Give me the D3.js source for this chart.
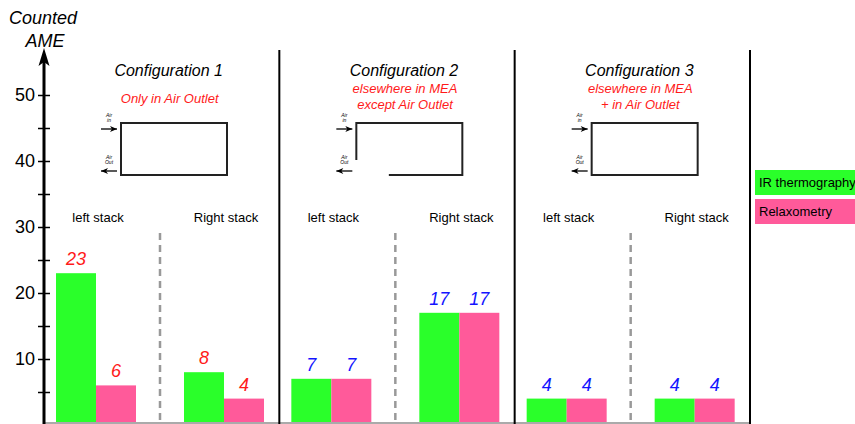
<!DOCTYPE html>
<html>
<head>
<meta charset="utf-8">
<script src="https://cdn.jsdelivr.net/npm/d3@7"></script>
<style>
  body { margin: 0; background: #fff; }
  svg { display: block; font-family: "Liberation Sans", Arial, sans-serif; }
</style>
</head>
<body>
<div id="chart"></div>
<script>
// chart data
const configs = ["Configuration 1", "Configuration 2", "Configuration 3"];
const subtitles = [["Only in Air Outlet"], ["elsewhere in MEA", "except Air Outlet"], ["elsewhere in MEA", "+ in Air Outlet"]];
const stacks = ["left stack", "Right stack"];
const series = ["IR thermography", "Relaxometry"];
const irValues = [[23, 8], [7, 17], [4, 4]];      // per config: left, right
const relaxValues = [[6, 4], [7, 17], [4, 4]];
const valueColors = ["#ff1a1a", "#1414ff", "#1414ff"];
const yTicks = [5, 10, 15, 20, 25, 30, 35, 40, 45, 50];

const width = 855, height = 424;
const colors = { "IR thermography": "#2aff2a", "Relaxometry": "#ff5a9a" };

const svg = d3.select("#chart").append("svg")
    .attr("width", width)
    .attr("height", height);

const y = d3.scaleLinear().domain([0, 50]).range([425, 95]);
const x0 = d3.scaleBand().domain(configs).range([44, 750]);
const x1 = d3.scaleBand().domain(stacks).range([12, 220]).paddingInner(0.375);
const x2 = d3.scaleBand().domain(series).range([0, x1.bandwidth()]);

// baseline
svg.append("line")
    .attr("x1", 44).attr("x2", 750)
    .attr("y1", 423).attr("y2", 423)
    .attr("stroke", "#aaa").attr("stroke-width", 2);

// panels
const panel = svg.selectAll("g.panel")
  .data(configs)
  .join("g")
    .attr("class", "panel")
    .attr("transform", d => `translate(${x0(d)},0)`);

// separators
panel.append("line")
    .attr("x1", x0.bandwidth()).attr("x2", x0.bandwidth())
    .attr("y1", 50).attr("y2", 424)
    .attr("stroke", "#000").attr("stroke-width", 2);

// dashed divider between the stacks
const mid = (x1(stacks[0]) + x1.bandwidth() + x1(stacks[1])) / 2;
panel.append("line")
    .attr("x1", mid).attr("x2", mid)
    .attr("y1", 233).attr("y2", 424)
    .attr("stroke", "#999").attr("stroke-width", 2.5)
    .attr("stroke-dasharray", "7,5");

// titles
panel.append("text")
    .attr("x", x0.bandwidth() / 2 + 7)
    .attr("y", 76)
    .attr("text-anchor", "middle")
    .attr("font-size", 16)
    .attr("font-style", "italic")
    .text(d => d);

panel.each(function(d, i) {
  const g = d3.select(this);
  const lines = subtitles[i];
  g.selectAll("text.sub")
    .data(lines)
    .join("text")
      .attr("class", "sub")
      .attr("x", x0.bandwidth() / 2 + 8)
      .attr("y", (t, j) => lines.length === 1 ? 103 : 93 + j * 16)
      .attr("text-anchor", "middle")
      .attr("font-size", 13)
      .attr("font-style", "italic")
      .attr("fill", "#ff1a1a")
      .text(t => t);
});

// cell diagram
const rx = 77, ry = 123, rw = 106, rh = 52;
panel.append("rect")
    .attr("x", rx).attr("y", ry)
    .attr("width", rw).attr("height", rh)
    .attr("fill", "#fff").attr("stroke", "#222").attr("stroke-width", 2);

// config 2: open corner at the air outlet
panel.filter((d, i) => i === 1).append("rect")
    .attr("x", rx - 1.5).attr("y", ry + 37)
    .attr("width", 34).attr("height", rh - 36)
    .attr("fill", "#fff");

const arrow = (g, yy, dir) => {
  const xa = rx - 20, xb = rx - 4;
  g.append("line")
      .attr("x1", xa).attr("x2", xb).attr("y1", yy).attr("y2", yy)
      .attr("stroke", "#000").attr("stroke-width", 1.3);
  const tip = dir > 0 ? xb : xa;
  g.append("path")
      .attr("d", `M${tip},${yy}L${tip - dir * 7},${yy - 3}L${tip - dir * 5},${yy}L${tip - dir * 7},${yy + 3}Z`)
      .attr("fill", "#000");
};
panel.each(function() {
  const g = d3.select(this);
  arrow(g, 129, 1);
  arrow(g, 171, -1);
  [["Air", 117], ["in", 122], ["Air", 159], ["Out", 164]].forEach(([t, yy]) => {
    g.append("text")
        .attr("x", rx - 12).attr("y", yy)
        .attr("text-anchor", "middle")
        .attr("font-size", 5)
        .attr("font-style", "italic")
        .text(t);
  });
});

// stack labels
panel.selectAll("text.stack")
  .data(stacks)
  .join("text")
    .attr("class", "stack")
    .attr("x", d => x1(d) + x1.bandwidth() / 2 + 2)
    .attr("y", 222)
    .attr("text-anchor", "middle")
    .attr("font-size", 13)
    .text(d => d);

// bars
panel.each(function(c, i) {
  const g = d3.select(this);
  const rows = [];
  stacks.forEach((s, j) => {
    rows.push({ stack: s, key: series[0], value: irValues[i][j] });
    rows.push({ stack: s, key: series[1], value: relaxValues[i][j] });
  });
  g.selectAll("rect.bar")
    .data(rows)
    .join("rect")
      .attr("class", "bar")
      .attr("x", d => x1(d.stack) + x2(d.key))
      .attr("y", d => y(d.value))
      .attr("width", x2.bandwidth())
      .attr("height", d => 422 - y(d.value))
      .attr("fill", d => colors[d.key]);
  g.selectAll("text.val")
    .data(rows)
    .join("text")
      .attr("class", "val")
      .attr("x", d => x1(d.stack) + x2(d.key) + x2.bandwidth() / 2)
      .attr("y", d => y(d.value) - 8)
      .attr("text-anchor", "middle")
      .attr("font-size", 18)
      .attr("font-style", "italic")
      .attr("fill", valueColors[i])
      .text(d => d.value);
});

// y axis
const axis = svg.append("g")
    .attr("transform", "translate(44,0)")
    .call(d3.axisLeft(y).tickValues(yTicks).tickSize(6).tickPadding(3)
      .tickFormat(d => d % 10 === 0 ? d : ""));
axis.select(".domain").remove();
axis.selectAll(".tick line").attr("x1", 6).attr("x2", -6).attr("stroke-width", 1.5);
axis.selectAll(".tick text").attr("font-size", 18).attr("font-family", "Liberation Sans, Arial, sans-serif").attr("fill", "#000");
axis.append("line")
    .attr("x1", 0).attr("x2", 0).attr("y1", 425).attr("y2", 60)
    .attr("stroke", "#000").attr("stroke-width", 3);
axis.append("path")
    .attr("d", "M0,48L-5.5,66L0,62L5.5,66Z")
    .attr("fill", "#000");

svg.append("text")
    .attr("text-anchor", "middle")
    .attr("font-size", 18)
    .attr("font-style", "italic")
  .selectAll("tspan")
  .data(["Counted", "AME"])
  .join("tspan")
    .attr("x", (d, i) => i ? 45 : 43)
    .attr("y", (d, i) => 24 + i * 23)
    .text(d => d);

// legend
const legend = svg.append("g")
  .selectAll("g")
  .data(series)
  .join("g")
    .attr("transform", (d, i) => `translate(755,${170 + i * 29})`);
legend.append("rect")
    .attr("width", 100).attr("height", 25)
    .attr("fill", d => colors[d]);
legend.append("text")
    .attr("x", 4).attr("y", 17)
    .attr("font-size", 13)
    .text(d => d);
</script>
</body>
</html>
